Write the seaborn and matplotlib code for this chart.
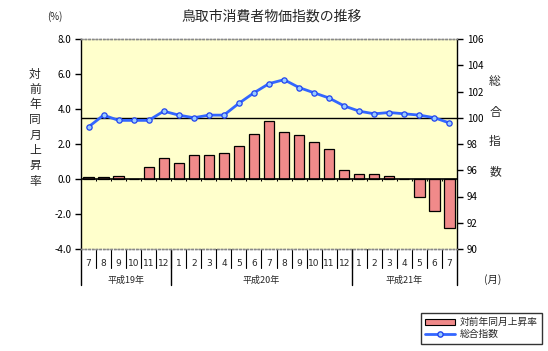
import matplotlib
matplotlib.use('Agg')
import matplotlib.pyplot as plt
from matplotlib.patches import Patch
from matplotlib.lines import Line2D
import seaborn as sns
import pandas as pd
import numpy as np

# data
months = ['7', '8', '9', '10', '11', '12',
          '1', '2', '3', '4', '5', '6', '7', '8', '9', '10', '11', '12',
          '1', '2', '3', '4', '5', '6', '7']
years = ['平成19年', '平成20年', '平成21年']
year_counts = [6, 12, 7]
rate = [0.1, 0.1, 0.2, 0.0, 0.7, 1.2,
        0.9, 1.4, 1.4, 1.5, 1.9, 2.6, 3.3, 2.7, 2.5, 2.1, 1.7, 0.5,
        0.3, 0.3, 0.2, 0.0, -1.0, -1.8, -2.8]
index = [99.3, 100.2, 99.8, 99.8, 99.8, 100.5,
         100.2, 100.0, 100.2, 100.2, 101.1, 101.9, 102.6, 102.9, 102.3, 101.9, 101.5, 100.9,
         100.5, 100.3, 100.4, 100.3, 100.2, 100.0, 99.6]

df = pd.DataFrame({'pos': range(len(rate)), 'rate': rate, 'index': index})

sns.set_theme(style='white')
plt.rcParams['font.family'] = ['Noto Sans CJK JP', 'DejaVu Sans']
plt.rcParams['axes.unicode_minus'] = False

W, H = 548, 351
fig = plt.figure(figsize=(W / 100, H / 100), dpi=100)
ax = fig.add_axes([81 / W, 1 - 249 / H, 376 / W, 210 / H])
ax.set_facecolor('#ffffcc')

bar_color = '#f08a8a'
line_color = '#3366ff'

sns.barplot(data=df, x='pos', y='rate', color=bar_color, saturation=1,
            width=0.68, edgecolor='black', linewidth=0.9, ax=ax, zorder=2)
ax.set_xlim(-0.5, len(rate) - 0.5)
ax.set_ylim(-4, 8)
ax.set_yticks(np.arange(-4, 9, 2))
ax.set_yticklabels([f'{v:.1f}' for v in np.arange(-4, 9, 2)])
ax.set_xticks([])
ax.set_xlabel('')
ax.set_ylabel('')
ax.axhline(0, color='black', lw=1.2, zorder=3)
# small ticks on the zero line between categories
ax.vlines(np.arange(-0.5, len(rate)), -0.12, 0, color='black', lw=0.8, zorder=3)
ax.tick_params(axis='y', left=True, direction='out', length=4, width=1,
               labelsize=7, colors='black', pad=3)

ax2 = ax.twinx()
sns.lineplot(data=df, x='pos', y='index', ax=ax2, color=line_color, lw=2,
             marker='o', markersize=3.8, markerfacecolor='#99ccff',
             markeredgecolor='#2244ee', markeredgewidth=0.9)
ax2.axhline(100, color='black', lw=1, zorder=1)
ax2.set_ylim(90, 106)
ax2.set_yticks(np.arange(90, 107, 2))
ax2.set_ylabel('')
ax2.set_xlim(-0.5, len(rate) - 0.5)
ax2.tick_params(axis='y', right=True, direction='out', length=4, width=1,
                labelsize=7, colors='black', pad=3)

for a in (ax, ax2):
    for s in ('top', 'bottom'):
        a.spines[s].set_linestyle(':')
        a.spines[s].set_color('#888888')
        a.spines[s].set_linewidth(1)
ax.spines['left'].set_color('black')
ax.spines['left'].set_linewidth(1)
ax.spines['right'].set_visible(False)
ax2.spines['left'].set_visible(False)
ax2.spines['right'].set_color('black')
ax2.spines['right'].set_linewidth(1)

# category axis below the plot
tr = ax.get_xaxis_transform()
n = len(months)
for i, m in enumerate(months):
    ax.text(i, -0.067, m, transform=tr, ha='center', va='center',
            fontsize=6.5, family='DejaVu Sans', clip_on=False)
for b in range(1, n):
    ax.plot([b - 0.5, b - 0.5], [0, -0.09], transform=tr, color='black',
            lw=0.8, clip_on=False)
start = 0
bounds = [-0.5]
for y, c in zip(years, year_counts):
    ax.text(start + (c - 1) / 2, -0.148, y, transform=tr, ha='center',
            va='center', fontsize=6.5, clip_on=False)
    start += c
    bounds.append(start - 0.5)
for b in bounds:
    ax.plot([b, b], [0, -0.171], transform=tr, color='black', lw=1,
            clip_on=False)

# texts
fig.text(272 / W, 1 - 17 / H, '鳥取市消費者物価指数の推移', ha='center',
         va='center', fontsize=10)
fig.text(55 / W, 1 - 17 / H, '(%)', ha='center', va='center', fontsize=7)
fig.text(493 / W, 1 - 280 / H, '(月)', ha='center', va='center', fontsize=7.5)
for k, ch in enumerate('対前年同月上昇率'):
    fig.text(35 / W, 1 - (74 + k * 15.3) / H, ch, ha='center', va='center',
             fontsize=8.5)
for k, ch in enumerate('総合指数'):
    fig.text(495 / W, 1 - (82 + k * 30) / H, ch, ha='center', va='center',
             fontsize=8.5)

handles = [Patch(facecolor=bar_color, edgecolor='black', linewidth=0.8),
           Line2D([], [], color=line_color, lw=2, marker='o', markersize=3.8,
                  markerfacecolor='#99ccff', markeredgecolor='#2244ee')]
leg = fig.legend(handles, ['対前年同月上昇率', '総合指数'], loc='upper left',
                 bbox_to_anchor=(421 / W, 1 - 313 / H), fontsize=7,
                 frameon=True, fancybox=False, edgecolor='black',
                 handlelength=3.0, handleheight=0.6, borderpad=0.45,
                 labelspacing=0.2, handletextpad=0.5, borderaxespad=0)
leg.get_frame().set_linewidth(1)

fig.savefig('out.png', dpi=100)
